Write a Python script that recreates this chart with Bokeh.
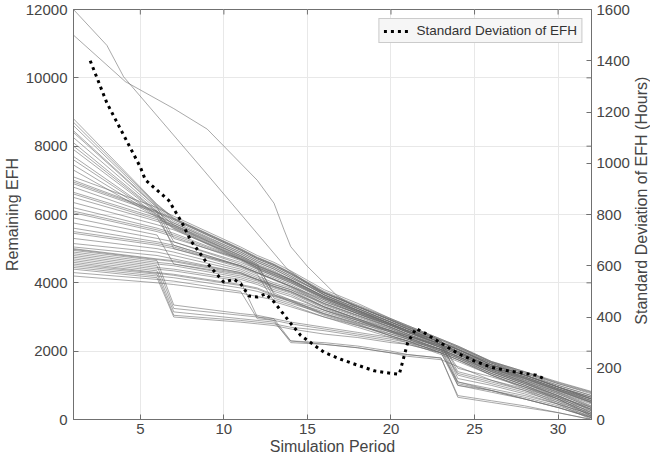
import math
from bokeh.plotting import figure
from bokeh.models import Range1d, LinearAxis, FixedTicker, Legend, LegendItem
from bokeh.layouts import row
from bokeh.core.properties import value
from bokeh.embed import file_html
from bokeh.resources import INLINE

# ---------------- data ----------------
# x positions (simulation periods) of the vertices of the simulated trajectories
band_periods = [1, 6, 7, 11, 12, 13, 14, 16, 18, 20, 21, 23, 24, 26, 28, 30, 32]

# remaining EFH of each simulated trajectory at band_periods
band_upper = [
    [8800, 6300, 5900, 5000, 4750, 4550, 4300, 3750, 3350, 2950, 2750, 2350, 2150, 1700, 1400, 1100, 820],
    [8700, 6280, 5880, 4980, 4730, 4530, 4280, 3720, 3320, 2920, 2720, 2320, 2120, 1680, 1380, 1080, 800],
    [8600, 6250, 5850, 4950, 4700, 4500, 4250, 3700, 3300, 2900, 2700, 2300, 1400, 1150, 900, 600, 300],
    [8450, 6220, 5300, 4700, 4500, 4300, 4100, 3600, 3200, 2800, 2600, 2250, 2050, 1600, 1300, 950, 650],
    [8400, 6200, 5800, 4900, 4650, 4450, 4200, 3650, 3250, 2850, 2650, 2250, 2100, 1650, 1350, 1050, 750],
    [8250, 6150, 5750, 4850, 4600, 4400, 4150, 3700, 3300, 2900, 2680, 2280, 2080, 1600, 1300, 950, 650],
    [8100, 6100, 5700, 4800, 4550, 3650, 3450, 3150, 2850, 2600, 2450, 2150, 1950, 1550, 1250, 900, 550],
    [8000, 6080, 5680, 4780, 4520, 4320, 4080, 3580, 3180, 2790, 2590, 2190, 1300, 1050, 800, 500, 200],
    [7900, 6050, 5000, 4500, 4300, 4100, 3900, 3450, 3100, 2750, 2550, 2200, 1100, 850, 600, 350, 80],
    [7700, 6000, 5650, 4750, 4500, 4300, 4100, 3600, 3200, 2800, 2600, 2200, 2000, 1550, 1250, 900, 600],
    [7600, 5980, 5620, 4720, 4480, 4280, 4080, 3580, 3180, 2790, 2590, 2190, 1990, 1520, 1220, 870, 520],
    [7450, 5950, 5600, 4700, 4450, 4250, 4050, 3550, 3150, 2780, 2580, 2180, 1980, 1500, 1200, 850, 500],
    [7300, 5920, 5580, 4680, 4430, 3550, 3400, 3100, 2820, 2560, 2420, 2120, 1920, 1480, 1180, 830, 480],
]
band_middle = [
    [7100, 6200, 5950, 5050, 4800, 4600, 4350, 3800, 3400, 2950, 2750, 2350, 2150, 1700, 1400, 1050, 780],
    [7000, 6100, 5200, 4600, 4400, 4200, 4000, 3550, 3150, 2800, 2600, 2250, 2050, 1600, 1300, 1000, 700],
    [6950, 6080, 5880, 4980, 4730, 4530, 4280, 3720, 3320, 2920, 2720, 2320, 2120, 1680, 1350, 1000, 700],
    [6900, 6050, 5850, 4950, 4700, 4500, 4250, 3700, 3300, 2900, 2700, 2300, 1200, 1000, 750, 450, 150],
    [6800, 5950, 5750, 4900, 4650, 4450, 4200, 3650, 3250, 2850, 2650, 2250, 2050, 1650, 1300, 950, 600],
    [6650, 5900, 5100, 4500, 4300, 4100, 3900, 3500, 3100, 2750, 2550, 2200, 2000, 1550, 1250, 900, 550],
    [6600, 5850, 5700, 4850, 4600, 4400, 4150, 3650, 3250, 2850, 2650, 2250, 2050, 1600, 1300, 950, 600],
    [6500, 5800, 5650, 4800, 4550, 4350, 4100, 3600, 3200, 2800, 2600, 2250, 1500, 1250, 950, 650, 350],
    [6350, 5700, 5550, 4750, 4500, 3700, 3500, 3200, 2900, 2600, 2450, 2150, 1950, 1500, 1200, 850, 500],
    [6200, 5600, 5450, 4700, 4450, 4250, 4050, 3550, 3150, 2750, 2550, 2200, 2000, 1600, 1250, 900, 600],
    [6100, 5550, 5400, 4680, 4430, 4230, 4030, 3530, 3130, 2760, 2560, 2180, 1980, 1560, 1220, 870, 550],
    [6050, 5500, 5350, 4650, 4400, 4200, 4000, 3500, 3100, 2750, 2550, 2150, 1350, 1100, 850, 550, 250],
    [5900, 5400, 4550, 4250, 4100, 3950, 3800, 3400, 3050, 2700, 2500, 2150, 1950, 1550, 1200, 850, 500],
    [5750, 5300, 5200, 4550, 4350, 4150, 3950, 3450, 3100, 2700, 2500, 2150, 1950, 1500, 1150, 800, 450],
    [5600, 5200, 5100, 4500, 4300, 4100, 3900, 3400, 3050, 2700, 2500, 2100, 1900, 1500, 1150, 800, 400],
    [5500, 5150, 5050, 4480, 4280, 4080, 3880, 3380, 3030, 2680, 2480, 2100, 1900, 1480, 1130, 780, 380],
    [5450, 5100, 5000, 4450, 4250, 3450, 3300, 3000, 2750, 2500, 2350, 2050, 1850, 1450, 1100, 750, 350],
    [5300, 5000, 4900, 4400, 4200, 4000, 3850, 3350, 3000, 2650, 2450, 2100, 1050, 850, 600, 350, 50],
    [5150, 4900, 4800, 4350, 4150, 3950, 3800, 3300, 2950, 2650, 2450, 2100, 1900, 1450, 1100, 750, 350],
    [5050, 4800, 4700, 4300, 4100, 3900, 3750, 3300, 2950, 2600, 2400, 2050, 1850, 1400, 1050, 700, 300],
]
band_lower = [
    [5000, 4700, 4650, 4300, 4100, 3900, 3750, 3300, 2950, 2600, 2400, 2050, 1850, 1450, 1100, 700, 300],
    [4980, 4680, 4620, 4270, 4080, 3880, 3730, 3280, 2930, 2580, 2380, 2030, 1830, 1420, 1080, 680, 280],
    [4950, 4650, 3350, 3100, 3050, 2950, 2300, 2200, 2100, 1950, 1900, 1800, 700, 550, 400, 200, 0],
    [4900, 4600, 4550, 4200, 4050, 3850, 3700, 3250, 2900, 2550, 2400, 2050, 1000, 850, 650, 400, 100],
    [4850, 4550, 4500, 4150, 4000, 3800, 3650, 3200, 2900, 2550, 2350, 2000, 1800, 1400, 1050, 700, 250],
    [4800, 4500, 3250, 3050, 3000, 2950, 2850, 2700, 2550, 2400, 2300, 2050, 1850, 1400, 1050, 650, 200],
    [4750, 4450, 4400, 4100, 3950, 3750, 3600, 3200, 2850, 2500, 2350, 2000, 1800, 1350, 1000, 650, 200],
    [4700, 4400, 4350, 4050, 3000, 2900, 2800, 2650, 2500, 2350, 2250, 2000, 1800, 1350, 1000, 600, 150],
    [4650, 4350, 3150, 2950, 2900, 2850, 2300, 2250, 2150, 2000, 1900, 1800, 650, 500, 350, 200, 0],
    [4600, 4300, 4250, 3950, 3850, 3650, 3500, 3100, 2800, 2450, 2300, 1950, 1750, 1350, 1000, 600, 150],
    [4550, 4280, 4220, 3920, 3820, 3620, 3480, 3080, 2780, 2440, 2290, 1950, 1100, 900, 700, 450, 150],
    [4500, 4250, 3050, 2900, 2850, 2800, 2700, 2600, 2450, 2300, 2200, 1950, 1000, 800, 600, 350, 50],
    [4450, 4200, 4150, 3850, 3750, 3600, 3450, 3050, 2750, 2450, 2300, 1950, 1750, 1300, 950, 600, 100],
    [4400, 4150, 3000, 2850, 2800, 2750, 2650, 2500, 2400, 2250, 2200, 1950, 1750, 1300, 950, 550, 100],
    [4300, 4100, 4050, 3750, 2950, 2900, 2250, 2200, 2100, 1950, 1850, 1750, 1550, 1150, 850, 450, 0],
    [4200, 4000, 3950, 3700, 3600, 3500, 3350, 3000, 2700, 2400, 2250, 1900, 1700, 1300, 900, 500, 50],
]

# two trajectories that start with a much higher remaining EFH
high1_periods = [1, 3, 4, 8.8, 13.8, 16, 18, 20, 21, 23, 24, 26, 28, 30, 32]
high1_efh = [12000, 10950, 10030, 7290, 4400, 3650, 3200, 2850, 2650, 2250, 2050, 1600, 1300, 950, 600]
high2_periods = [1, 4.1, 7, 9, 12, 13, 13.6, 14, 15, 16.8, 18, 20, 21, 23, 24, 26, 28, 30, 32]
high2_efh = [11250, 9890, 9100, 8500, 7000, 6330, 5550, 5060, 4480, 3610, 3250, 2850, 2650, 2250, 2050, 1650, 1300, 950, 650]

# standard deviation of EFH (hours)
std_periods = [2, 3, 4, 5, 5.3, 6, 6.7, 7.5, 8, 9, 10, 10.6, 11, 11.5, 12, 12.5, 13, 14, 14.6,
               16, 17, 18, 19, 20, 20.5, 21, 21.5, 22, 23, 24, 25, 26, 27, 28, 28.7, 29.3]
std_hours = [1400, 1235, 1110, 985, 935, 895, 855, 767, 700, 610, 536, 547, 530, 482, 478, 490, 459, 375, 328,
             262, 235, 212, 190, 180, 177, 300, 355, 338, 298, 258, 228, 204, 190, 180, 173, 155]

x_ticks = [5, 10, 15, 20, 25, 30]
left_ticks = [0, 2000, 4000, 6000, 8000, 10000, 12000]
right_ticks = [0, 200, 400, 600, 800, 1000, 1200, 1400, 1600]
x_lo, x_hi = 1, 32
y_lo, y_hi = 0, 12000
std_lo, std_hi = 0, 1600
right_title = "Standard Deviation of EFH (Hours)"

# ---------------- figure ----------------
FONT = "Liberation Sans"
TXT = "#454545"
AX = "#707070"
FW, FH = 518, 410
B_LEFT, B_RIGHT, B_TOP, B_BOTTOM = 70, 40, 9, 40
TOTAL_H = B_TOP + FH + B_BOTTOM
TITLE_W = 18

p = figure(frame_width=FW, frame_height=FH, output_backend="svg", toolbar_location=None,
           x_range=Range1d(x_lo, x_hi), y_range=Range1d(y_lo, y_hi),
           min_border_left=B_LEFT, min_border_right=B_RIGHT,
           min_border_top=B_TOP, min_border_bottom=B_BOTTOM)
p.extra_y_ranges = {"std": Range1d(std_lo, std_hi)}
p.background_fill_color = "white"
p.border_fill_color = "white"
p.outline_line_color = AX
p.outline_line_width = 1

p.xgrid.ticker = FixedTicker(ticks=x_ticks)
p.ygrid.ticker = FixedTicker(ticks=left_ticks)
p.grid.grid_line_color = "#e8e8e8"
p.grid.grid_line_width = 1

all_lines = band_upper + band_middle + band_lower
xs = [band_periods for _ in all_lines] + [high1_periods, high2_periods]
ys = [row_ for row_ in all_lines] + [high1_efh, high2_efh]
p.multi_line(xs, ys, line_color="#6a6a6a", line_alpha=0.58, line_width=1)

std_r = p.line(std_periods, std_hours, y_range_name="std", line_color="black",
               line_width=3, line_dash="3 4")

# inward box ticks on the top edge and the left-axis ticks mirrored on the right edge
tick_len_y = (y_hi - y_lo) * 5 / FH
tick_len_x = (x_hi - x_lo) * 5 / FW
p.segment(x0=x_ticks, y0=[y_hi] * len(x_ticks), x1=x_ticks, y1=[y_hi - tick_len_y] * len(x_ticks),
          line_color=AX, line_width=1)
p.segment(x0=[x_hi] * len(left_ticks), y0=left_ticks, x1=[x_hi - tick_len_x] * len(left_ticks),
          y1=left_ticks, line_color=AX, line_width=1)


def style_axis(ax):
    ax.axis_line_color = AX
    ax.major_tick_line_color = AX
    ax.major_tick_in = 5
    ax.major_tick_out = 0
    ax.minor_tick_line_color = None
    ax.major_label_text_font = FONT
    ax.major_label_text_font_size = "15px"
    ax.major_label_text_color = TXT
    ax.axis_label_text_font = FONT
    ax.axis_label_text_font_size = "16px"
    ax.axis_label_text_color = TXT
    ax.axis_label_text_font_style = "normal"


xa = p.xaxis[0]
style_axis(xa)
xa.ticker = FixedTicker(ticks=x_ticks)
xa.axis_label = "Simulation Period"
xa.major_label_standoff = 4
xa.axis_label_standoff = 1

ya = p.yaxis[0]
style_axis(ya)
ya.ticker = FixedTicker(ticks=left_ticks)
ya.axis_label = "Remaining EFH"
ya.major_label_standoff = 6
ya.axis_label_standoff = 2

ra = LinearAxis(y_range_name="std", ticker=FixedTicker(ticks=right_ticks))
style_axis(ra)
ra.major_label_standoff = 5
p.add_layout(ra, "right")

legend = Legend(items=[LegendItem(label="Standard Deviation of EFH", renderers=[std_r])],
                location="top_right")
legend.margin = 9
legend.padding = 4
legend.spacing = 0
legend.glyph_width = 27
legend.glyph_height = 14
legend.label_standoff = 6
legend.label_text_font = FONT
legend.label_text_font_size = "13.5px"
legend.label_text_color = "#333333"
legend.border_line_color = "#a0a0a0"
legend.background_fill_color = "#f6f6f6"
legend.background_fill_alpha = 1.0
p.add_layout(legend)

# narrow strip on the right carrying the right-axis title (reads bottom to top)
q = figure(width=TITLE_W, height=TOTAL_H, output_backend="svg", toolbar_location=None,
           x_range=Range1d(0, TITLE_W), y_range=Range1d(0, TOTAL_H),
           x_axis_type=None, y_axis_type=None,
           min_border_left=0, min_border_right=0, min_border_top=0, min_border_bottom=0)
q.outline_line_color = None
q.background_fill_color = "white"
q.border_fill_color = "white"
q.grid.visible = False
q.text(x=[TITLE_W / 2], y=[B_BOTTOM + FH / 2], text=[right_title], angle=math.pi / 2,
       text_align="center", text_baseline="middle", text_font=value(FONT),
       text_font_size="16px", text_color=TXT)

open("out.html", "w").write(file_html(row(p, q), INLINE))
